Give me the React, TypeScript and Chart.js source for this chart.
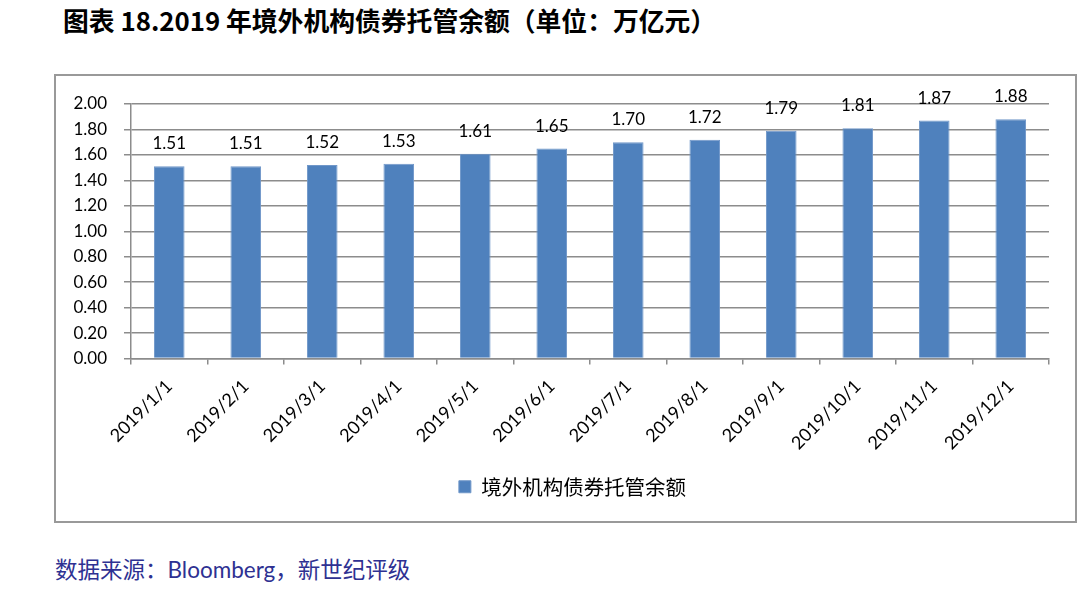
import React, { useEffect, useRef } from "react";
import { Chart, registerables } from "chart.js";

Chart.register(...registerables);

const categories = [
  "2019/1/1", "2019/2/1", "2019/3/1", "2019/4/1", "2019/5/1", "2019/6/1",
  "2019/7/1", "2019/8/1", "2019/9/1", "2019/10/1", "2019/11/1", "2019/12/1",
];
const seriesName = "境外机构债券托管余额";
const values = [1.51, 1.51, 1.52, 1.53, 1.61, 1.65, 1.70, 1.72, 1.79, 1.81, 1.87, 1.88];
const yMin = 0;
const yMax = 2;
const yStep = 0.2;

const titleText = "图表 18.2019 年境外机构债券托管余额（单位：万亿元）";
const sourceText = "数据来源：Bloomberg，新世纪评级";

const CANVAS_W = 1019;
const CANVAS_H = 445;

const valueLabels = {
  id: "valueLabels",
  afterDatasetsDraw(chart: any) {
    const ctx = chart.ctx;
    const meta = chart.getDatasetMeta(0);
    ctx.save();
    ctx.font = "17px Lato, 'Noto Sans CJK SC'";
    ctx.fillStyle = "#000";
    ctx.textAlign = "center";
    ctx.textBaseline = "alphabetic";
    meta.data.forEach((el: any, i: number) => {
      ctx.fillText(values[i].toFixed(2), el.x, el.y - 17);
    });
    ctx.restore();
  },
};

const legendShift = {
  id: "legendShift",
  afterLayout(chart: any) {
    if (chart.legend) {
      chart.legend.left += 20;
      chart.legend.right += 20;
    }
  },
};

export default function App() {
  const ref = useRef<HTMLCanvasElement>(null);
  useEffect(() => {
    if (!ref.current) return;
    const chart = new Chart(ref.current, {
      type: "bar",
      data: {
        labels: categories,
        datasets: [
          {
            label: seriesName,
            data: values,
            backgroundColor: "#4F81BD",
            borderColor: "#7097C9",
            borderWidth: 1,
            categoryPercentage: 1,
            barPercentage: 0.4,
          },
        ],
      },
      options: {
        animation: false,
        responsive: false,
        maintainAspectRatio: false,
        layout: { padding: { left: 0, right: 26, top: 28, bottom: 14 } },
        plugins: {
          tooltip: { enabled: false },
          legend: {
            position: "bottom",
            labels: {
              boxWidth: 12,
              boxHeight: 12,
              padding: 10,
              color: "#000",
              font: { size: 20.5, family: "'Noto Sans CJK SC', Lato" },
            },
          },
        },
        scales: {
          x: {
            grid: {
              offset: true,
              drawOnChartArea: false,
              drawTicks: true,
              tickLength: 6,
              color: "#8C8C8C",
              lineWidth: 1.5,
            },
            border: { color: "#8C8C8C", width: 1.5 },
            ticks: {
              color: "#000",
              font: { size: 18, family: "Lato" },
              minRotation: 45,
              maxRotation: 45,
              padding: 11,
              autoSkip: false,
            },
            afterFit(scale: any) {
              scale.height = 108;
            },
          },
          y: {
            min: yMin,
            max: yMax,
            grid: {
              color: "#8C8C8C",
              lineWidth: 1.5,
              tickLength: 7,
            },
            border: { color: "#8C8C8C", width: 1.5 },
            ticks: {
              stepSize: yStep,
              color: "#000",
              font: { size: 17, family: "Lato" },
              padding: 17,
              callback: (v: any) => Number(v).toFixed(2),
            },
            afterFit(scale: any) {
              scale.width = 75;
            },
          },
        },
      },
      plugins: [valueLabels, legendShift],
    });
    return () => chart.destroy();
  }, []);

  return (
    <div>
      <div
        style={{
          position: "absolute",
          left: 63,
          top: 3,
          fontFamily: "'Noto Sans CJK SC', serif",
          fontWeight: 700,
          fontSize: 25.8,
          color: "#000",
          whiteSpace: "nowrap",
          lineHeight: "34px",
        }}
      >
        {titleText}
      </div>
      <div
        style={{
          position: "absolute",
          left: 54,
          top: 74,
          width: CANVAS_W,
          height: CANVAS_H,
          border: "2px solid #999",
          background: "#fff",
        }}
      >
        <canvas ref={ref} width={CANVAS_W} height={CANVAS_H} style={{ display: "block" }} />
      </div>
      <div
        style={{
          position: "absolute",
          left: 55,
          top: 554,
          fontFamily: "Lato, 'Noto Sans CJK SC'",
          fontSize: 22.5,
          color: "#2E3192",
          whiteSpace: "nowrap",
          lineHeight: "32px",
        }}
      >
        {sourceText}
      </div>
    </div>
  );
}
